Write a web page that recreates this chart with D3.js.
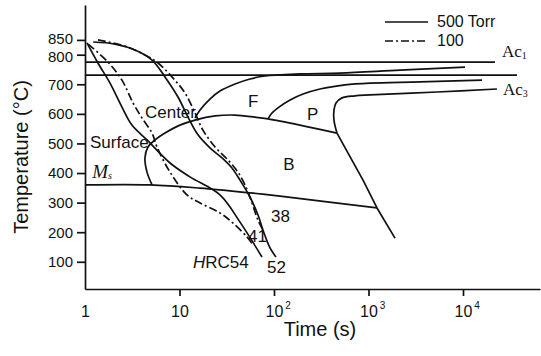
<!DOCTYPE html>
<html lang="en">
<head>
<meta charset="UTF-8">
<title>CCT diagram</title>
<script src="https://d3js.org/d3.v7.min.js"></script>
<style>
  body { margin: 0; background: #fff; }
  svg { display: block; font-family: Arial, "Liberation Sans", sans-serif; }
  .curve { fill: none; stroke: #111; stroke-width: 1.7; stroke-linejoin: round; }
  .dash { stroke-dasharray: 8,3,2,3; }
  .axis path, .axis line { stroke: #111; stroke-width: 1.7; }
  .axis text { font-size: 16px; fill: #111; font-family: Arial, "Liberation Sans", sans-serif; }
  .lbl { font-size: 17px; fill: #111; }
  .serif { font-family: "Liberation Serif", "DejaVu Serif", serif; }
</style>
</head>
<body>
<svg id="chart" width="541" height="356"></svg>
<script>
// ticks
const yTicks = [100, 200, 300, 400, 500, 600, 700, 800, 850];
const xTicks = [1, 10, 100, 1000, 10000];
const xTickBase = ["1", "10", "10", "10", "10"];
const xTickExp = ["", "", "2", "3", "4"];

// cooling curves [time s, temp C]
const surface500 = [[1.05,840],[1.37,772],[1.84,704],[2.46,623],[3.14,562],[4.53,512],[7.94,434],[12.9,387],[26.8,326],[43.7,234],[74.6,116]];
const surface100 = [[1.08,836],[1.75,775],[2.46,714],[3.22,637],[4.01,586],[5.12,535],[5.78,488],[7.94,403],[12.0,326],[16.5,299],[26.8,265],[36.8,231],[51.8,184],[60.0,157]];
const center500 = [[1.22,843],[2.08,836],[3.38,816],[5.12,782],[7.02,725],[9.64,657],[12.3,589],[15.7,529],[21.0,485],[28.2,451],[35.9,417],[43.7,376],[55.7,319],[67.7,258],[78.4,197],[90.7,147],[105,116]];
const center100 = [[1.37,850],[2.65,829],[4.31,799],[5.92,772],[8.33,725],[11.4,671],[14.6,603],[17.7,545],[23.8,488],[32.6,444],[41.6,403],[49.3,360],[58.5,299],[67.7,241],[78.4,201]];

// transformation boundaries
const bStart = [[5.12,360],[4.53,403],[4.31,451],[4.64,488],[5.51,512],[7.02,535],[10.1,562],[14.6,579],[23.8,593],[38.7,596],[62.9,589],[86.4,583],[188,562],[464,535]];
const bFinish = [[464,535],[875,376],[1230,282],[1907,180]];
const msLine = [[1,360],[4.87,360],[16.5,349],[55.7,333],[116,322],[1230,282]];
const fStart = [[14.6,586],[16.5,613],[21.0,650],[26.8,677],[38.7,701],[55.7,718],[80.3,728],[188,735],[499,738],[2154,748],[10500,758]];
const pStart = [[86.4,583],[95.2,603],[113,623],[148,647],[203,667],[307,684],[564,698],[1037,704],[3507,708],[15890,714]];
const pFinish = [[464,535],[431,579],[431,613],[453,637],[524,654],[720,661],[1037,664],[5308,674],[22900,684]];
const ac1Line = [[1,775],[21800,775]];
const ac3Line = [[1,731],[37270,731]];

// text labels [time, temp, text]
const labels = [[4.31,586,"Center"],[1.13,485,"Surface"],[53.1,623,"F"],[223,579,"P"],[125,410,"B"],[92.9,234,"38"],[84.3,62,"52"],[53.1,167,"41"]];

const svg = d3.select("#chart");
const x = d3.scaleLog().domain([1, 65300]).range([85, 540]);
const y = d3.scaleLinear().domain([8, 968]).range([289, 5]);

const smooth = d3.line().x(d => x(d[0])).y(d => y(d[1])).curve(d3.curveCatmullRom.alpha(0.5));
const straight = d3.line().x(d => x(d[0])).y(d => y(d[1]));

// axes
const yAxis = svg.append("g").attr("class", "axis")
  .attr("transform", "translate(85,0)")
  .call(d3.axisLeft(y).tickValues(yTicks).tickSize(8).tickPadding(4).tickSizeOuter(0));
yAxis.selectAll(".tick text").style("font-size", "15px")
  .attr("y", d => d === 850 ? -1.5 : d === 800 ? 1.5 : 0);

const xAxis = svg.append("g").attr("class", "axis")
  .attr("transform", "translate(0,289)")
  .call(d3.axisBottom(x).tickValues(xTicks).tickSize(7).tickSizeOuter(0).tickFormat(() => ""));
xAxis.selectAll(".tick line").filter(d => d === 1).remove();
xAxis.selectAll(".tick text").remove();
xAxis.selectAll(".tick").each(function(d, i) {
  const t = d3.select(this).append("text").attr("y", 28).attr("fill", "#111");
  if (xTickExp[i] === "") {
    t.attr("text-anchor", "middle").text(xTickBase[i]);
  } else {
    t.attr("x", -9).attr("text-anchor", "start");
    t.append("tspan").text(xTickBase[i]);
    t.append("tspan").attr("dx", 2).attr("dy", -8).attr("font-size", 10).text(xTickExp[i]);
  }
});

svg.append("text").attr("x", 320).attr("y", 336).attr("text-anchor", "middle")
  .attr("font-size", 20).attr("fill", "#111").text("Time (s)");
svg.append("text").attr("transform", "translate(28,157) rotate(-90)").attr("text-anchor", "middle")
  .attr("font-size", 20).attr("fill", "#111").text("Temperature (°C)");

// straight lines
[ac1Line, ac3Line, bFinish].forEach(d => {
  svg.append("path").attr("class", "curve").attr("d", straight(d));
});
// smooth boundaries
[msLine, bStart, fStart, pStart, pFinish].forEach(d => {
  svg.append("path").attr("class", "curve").attr("d", smooth(d));
});
// cooling curves
svg.append("path").attr("class", "curve").attr("d", smooth(surface500));
svg.append("path").attr("class", "curve").attr("d", smooth(center500));
svg.append("path").attr("class", "curve dash").attr("d", smooth(surface100));
svg.append("path").attr("class", "curve dash").attr("d", smooth(center100));

// labels
svg.selectAll(".lblt").data(labels).join("text")
  .attr("class", "lbl")
  .attr("x", d => x(d[0])).attr("y", d => y(d[1]))
  .text(d => d[2]);

const hrc = svg.append("text").attr("class", "lbl").attr("x", x(13.9)).attr("y", y(79));
hrc.append("tspan").attr("font-style", "italic").text("H");
hrc.append("tspan").text("RC54");

const ms = svg.append("text").attr("class", "serif").attr("fill", "#111").attr("font-size", 19)
  .attr("x", x(1.19)).attr("y", y(383)).attr("font-style", "italic");
ms.append("tspan").text("M");
ms.append("tspan").attr("font-size", 10).attr("dy", 1).text("s");

const ac1 = svg.append("text").attr("class", "lbl serif").attr("x", x(25860)).attr("y", y(792));
ac1.append("tspan").text("Ac");
ac1.append("tspan").attr("font-size", 10).attr("dy", 2).text("1");
const ac3 = svg.append("text").attr("class", "lbl serif").attr("x", x(26490)).attr("y", y(664));
ac3.append("tspan").text("Ac");
ac3.append("tspan").attr("font-size", 10).attr("dy", 2).text("3");

// legend
const legend = svg.append("g");
legend.append("line").attr("class", "curve").attr("x1", 385).attr("x2", 428).attr("y1", 22).attr("y2", 22);
legend.append("line").attr("class", "curve dash").attr("x1", 385).attr("x2", 428).attr("y1", 41).attr("y2", 41);
legend.append("text").attr("x", 437).attr("y", 27).attr("font-size", 16).attr("fill", "#111").text("500 Torr");
legend.append("text").attr("x", 437).attr("y", 46).attr("font-size", 16).attr("fill", "#111").text("100");
</script>
</body>
</html>
